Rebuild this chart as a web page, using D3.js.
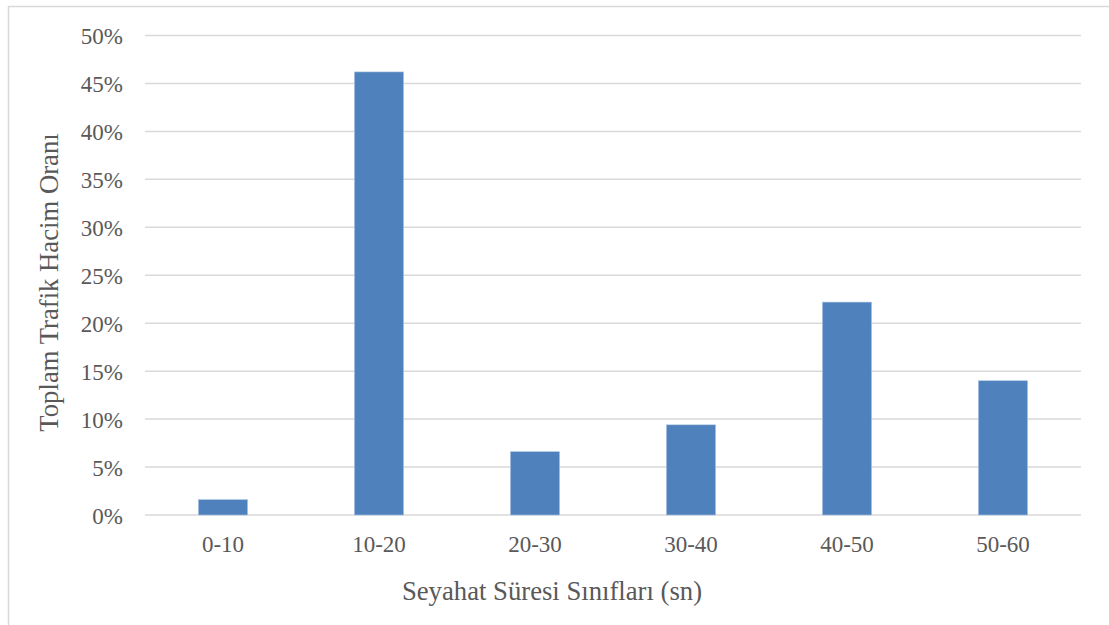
<!DOCTYPE html>
<html>
<head>
<meta charset="utf-8">
<script src="https://cdn.jsdelivr.net/npm/d3@7"></script>
<style>
  html, body { margin: 0; padding: 0; background: #fff; }
  svg { display: block; }
  text { font-family: "Liberation Serif", "Times New Roman", serif; fill: #595959; }
</style>
</head>
<body>
<svg id="chart" width="1109" height="625"></svg>
<script>
// Travel-time classes and the share of total traffic volume in each
const categories = ["0-10", "10-20", "20-30", "30-40", "40-50", "50-60"];
const shares = [0.016, 0.462, 0.066, 0.094, 0.222, 0.140];
const yTicks = [0, 0.05, 0.10, 0.15, 0.20, 0.25, 0.30, 0.35, 0.40, 0.45, 0.50];
const xTitle = "Seyahat Süresi Sınıfları (sn)";
const yTitle = "Toplam Trafik Hacim Oranı";

const FONT = "'Liberation Serif', 'Times New Roman', serif";
const svg = d3.select("#chart");
const plot = { left: 145, right: 1081, top: 35.5, bottom: 515 };

// Frame around the chart area
svg.append("rect")
  .attr("x", 8.5).attr("y", 6.5)
  .attr("width", 1120).attr("height", 640)
  .attr("fill", "none")
  .attr("stroke", "#d9d9d9")
  .attr("stroke-width", 1.5);

const x = d3.scaleBand()
  .domain(categories)
  .range([plot.left, plot.right])
  .paddingInner(0.685)
  .paddingOuter(0.3425);

const y = d3.scaleLinear()
  .domain([0, 0.5])
  .range([plot.bottom, plot.top]);

// Horizontal gridlines
svg.append("g")
  .selectAll("line")
  .data(yTicks)
  .join("line")
  .attr("x1", plot.left).attr("x2", plot.right)
  .attr("y1", d => y(d)).attr("y2", d => y(d))
  .attr("stroke", "#d9d9d9")
  .attr("stroke-width", 1.5);

// Y axis labels
const yAxis = d3.axisLeft(y)
  .tickValues(yTicks)
  .tickFormat(d3.format(".0%"))
  .tickSize(0)
  .tickPadding(0);
svg.append("g")
  .attr("transform", "translate(123,0)")
  .call(yAxis)
  .call(g => g.select(".domain").remove())
  .call(g => g.selectAll("text")
    .attr("dy", "0.36em")
    .style("font-size", "23px")
    .style("fill", "#595959")
    .style("font-family", FONT));

// Bars
svg.append("g")
  .selectAll("rect")
  .data(categories.map((c, i) => ({ c, v: shares[i] })))
  .join("rect")
  .attr("x", d => x(d.c))
  .attr("width", x.bandwidth())
  .attr("y", d => y(d.v))
  .attr("height", d => y(0) - y(d.v))
  .attr("fill", "#4f81bd")
  .attr("stroke", "#a9c3e3")
  .attr("stroke-width", 0.6);

// X axis labels
const xAxis = d3.axisBottom(x).tickSize(0).tickPadding(0);
svg.append("g")
  .attr("transform", `translate(0,${plot.bottom})`)
  .call(xAxis)
  .call(g => g.select(".domain").remove())
  .call(g => g.selectAll("text")
    .attr("y", 37)
    .attr("dy", 0)
    .style("font-size", "23px")
    .style("fill", "#595959")
    .style("font-family", FONT));

// Axis titles
svg.append("text")
  .attr("x", 552)
  .attr("y", 600)
  .attr("text-anchor", "middle")
  .style("font-size", "26.7px")
  .text(xTitle);

svg.append("text")
  .attr("transform", "translate(58,282.5) rotate(-90)")
  .attr("text-anchor", "middle")
  .style("font-size", "26.7px")
  .text(yTitle);
</script>
</body>
</html>
